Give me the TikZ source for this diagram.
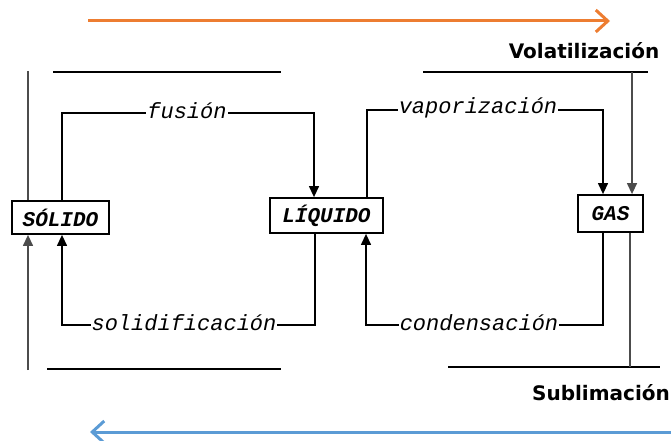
\documentclass[tikz,border=0pt]{standalone}
\usepackage{fontspec}
\setmonofont{Liberation Mono}
\newfontfamily\procfont{DejaVu Sans}
\usetikzlibrary{arrows.meta}

\definecolor{naranja}{RGB}{237,125,49}
\definecolor{azul}{RGB}{91,155,213}

\tikzset{
	estado/.style={draw, line width=1.8pt, inner sep=0pt,
		font=\ttfamily\bfseries\itshape\fontsize{21}{21}\selectfont},
	cambio/.style={fill=white, inner sep=1pt, yshift=2pt,
		font=\ttfamily\itshape\fontsize{22}{22}\selectfont},
	flecha/.style={line width=1.3pt, -{Triangle[length=11pt,width=10pt]}},
	guia/.style={line width=1.3pt, black!70},
	proceso/.style={font=\procfont\bfseries\fontsize{20}{20}\selectfont},
	grande/.style={line width=3pt, -{Straight Barb[length=12pt,width=22pt]}},
}

\begin{document}
\begin{tikzpicture}[x=1pt,y=-1pt]
	\useasboundingbox (0,0) rectangle (671,441);
	
	% estados
	\node[estado, minimum width=97pt, minimum height=33pt] (solido) at (60.5,217.5) {SÓLIDO};
	\node[estado, minimum width=113pt, minimum height=35pt] (liquido) at (326.5,215.5) {LÍQUIDO};
	\node[estado, minimum width=65pt, minimum height=37pt] (gas) at (610.5,213.5) {GAS};
	
	% extremos libres
	\coordinate (tl1) at (53,72);
	\coordinate (tl2) at (281,72);
	\coordinate (tr1) at (423,72);
	\coordinate (tr2) at (648,72);
	\coordinate (bl1) at (47,369);
	\coordinate (bl2) at (281,369);
	\coordinate (br1) at (448,367);
	\coordinate (br2) at (660,367);
	\coordinate (izqA) at (28,71);
	\coordinate (izqB) at (28,370);
	\coordinate (volat) at (632,72);
	\coordinate (subli) at (630,367);
	
	% cambios de estado
	\draw[flecha] (solido.north -| 62,0) |- (187,113) node[cambio]{fusión} -| (liquido.north -| 314,0);
	\draw[flecha] (liquido.north -| 367,0) |- (478,110) node[cambio]{vaporización} -| (gas.north -| 603,0);
	\draw[flecha] (liquido.south -| 315,0) |- (184,325) node[cambio]{solidificación} -| (solido.south -| 62,0);
	\draw[flecha] (gas.south -| 603,0) |- (479,325) node[cambio]{condensación} -| (liquido.south -| 366,0);
	
	% lineas de guia
	\draw[line width=1.3pt] (tl1) -- (tl2);
	\draw[line width=1.3pt] (tr1) -- (tr2);
	\draw[line width=1.3pt] (bl1) -- (bl2);
	\draw[line width=1.3pt] (br1) -- (br2);
	\draw[guia] (izqA) -- (solido.north -| izqA);
	\draw[guia, flecha] (izqB) -- (solido.south -| izqB);
	\draw[guia, flecha] (volat) -- (gas.north -| volat);
	\draw[guia] (gas.south -| subli) -- (subli);
	
	% volatilizacion y sublimacion
	\coordinate (o1) at (88,21);
	\coordinate (o2) at (610,21);
	\coordinate (a1) at (671,432);
	\coordinate (a2) at (90,432);
	\draw[grande, naranja] (o1) -- (o2);
	\draw[grande, azul] (a1) -- (a2);
	\node[proceso] (vol) at (584,51) {Volatilización};
	\node[proceso] (sub) at (601,393) {Sublimación};
	
\end{tikzpicture}
\end{document}
